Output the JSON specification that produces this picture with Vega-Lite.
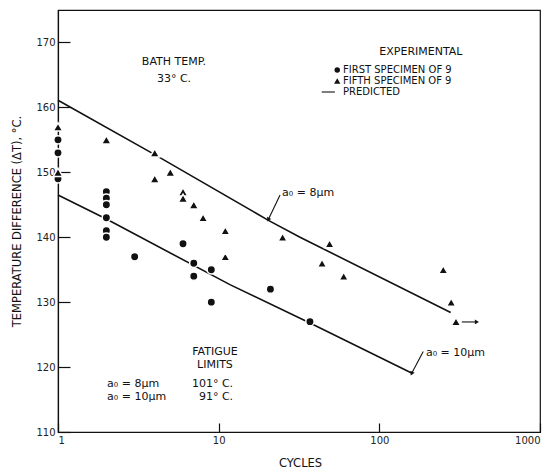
{
  "$schema": "https://vega.github.io/schema/vega-lite/v6.json",
  "width": 482,
  "height": 422,
  "autosize": {"type": "none"},
  "padding": {"left": 58, "top": 10, "right": 4, "bottom": 37},
  "background": "white",
  "config": {
    "view": {"stroke": "#111", "strokeWidth": 1.2},
    "font": "DejaVu Sans",
    "axis": {
      "grid": false,
      "domainColor": "#111",
      "domainWidth": 1.2,
      "tickColor": "#111",
      "tickWidth": 1.2,
      "labelColor": "#222",
      "labelFont": "DejaVu Sans",
      "labelFontSize": 10,
      "titleFont": "DejaVu Sans",
      "titleFontSize": 11.5,
      "titleFontWeight": "normal",
      "titleColor": "#111"
    },
    "text": {"font": "DejaVu Sans", "fontSize": 11, "color": "#111"}
  },
  "datasets": {
    "predicted": [
      {"curve": "a0 = 8 um", "x": 1, "y": 161.1},
      {"curve": "a0 = 8 um", "x": 3.95, "y": 152.8},
      {"curve": "a0 = 8 um", "x": 20.4, "y": 142.6},
      {"curve": "a0 = 8 um", "x": 32.1, "y": 140.0},
      {"curve": "a0 = 8 um", "x": 278, "y": 128.4},
      {"curve": "a0 = 10 um", "x": 1, "y": 146.5},
      {"curve": "a0 = 10 um", "x": 2, "y": 142.8},
      {"curve": "a0 = 10 um", "x": 11.75, "y": 132.7},
      {"curve": "a0 = 10 um", "x": 37, "y": 126.8},
      {"curve": "a0 = 10 um", "x": 161, "y": 119.0}
    ],
    "first": [
      {"x": 1, "y": 155}, {"x": 1, "y": 153}, {"x": 1, "y": 149},
      {"x": 2, "y": 147}, {"x": 2, "y": 146}, {"x": 2, "y": 145},
      {"x": 2, "y": 143}, {"x": 2, "y": 141}, {"x": 2, "y": 140},
      {"x": 3, "y": 137}, {"x": 6, "y": 139}, {"x": 7, "y": 136},
      {"x": 7, "y": 134}, {"x": 9, "y": 135}, {"x": 9, "y": 130},
      {"x": 21, "y": 132}, {"x": 37, "y": 127}
    ],
    "fifth": [
      {"x": 1, "y": 157}, {"x": 1, "y": 150}, {"x": 2, "y": 155},
      {"x": 4, "y": 153}, {"x": 4, "y": 149}, {"x": 5, "y": 150},
      {"x": 6, "y": 147}, {"x": 6, "y": 146}, {"x": 7, "y": 145},
      {"x": 8, "y": 143}, {"x": 11, "y": 141}, {"x": 11, "y": 137},
      {"x": 25, "y": 140}, {"x": 44, "y": 136}, {"x": 49, "y": 139},
      {"x": 60, "y": 134}, {"x": 250, "y": 135}, {"x": 280, "y": 130},
      {"x": 300, "y": 127}
    ],
    "leaders": [
      {"x": 24.1, "y": 146.5, "x2": 20.35, "y2": 142.7},
      {"x": 187.6, "y": 122.4, "x2": 158.8, "y2": 119.0},
      {"x": 326, "y": 126.95, "x2": 400, "y2": 126.95},
      {"x": 43.8, "y": 162.37, "x2": 52.9, "y2": 162.37}
    ],
    "heads": [
      {"x": 20.35, "y": 142.7},
      {"x": 158.8, "y": 119.0}
    ],
    "headRight": [
      {"x": 405, "y": 126.95}
    ],
    "legendCircle": [{"x": 54.7, "y": 165.76}],
    "legendTriangle": [{"x": 54.7, "y": 164.07}],
    "legendText": [
      {"x": 59.4, "y": 165.76, "label": "FIRST  SPECIMEN  OF  9"},
      {"x": 59.4, "y": 164.07, "label": "FIFTH  SPECIMEN  OF  9"},
      {"x": 59.4, "y": 162.37, "label": "PREDICTED"}
    ],
    "centerText": [
      {"x": 181.5, "y": 168.53, "label": "EXPERIMENTAL"},
      {"x": 5.27, "y": 167.0, "label": "BATH TEMP."},
      {"x": 5.27, "y": 164.37, "label": "33° C."},
      {"x": 9.48, "y": 122.32, "label": "FATIGUE"},
      {"x": 9.48, "y": 120.32, "label": "LIMITS"}
    ],
    "leftText": [
      {"x": 24.8, "y": 146.8, "label": "a₀ = 8μm"},
      {"x": 195, "y": 122.2, "label": "a₀ = 10μm"},
      {"x": 2.02, "y": 117.39, "label": "a₀  =  8μm"},
      {"x": 2.02, "y": 115.39, "label": "a₀  =  10μm"}
    ],
    "rightText": [
      {"x": 12.3, "y": 117.39, "label": "101° C."},
      {"x": 12.3, "y": 115.39, "label": "91° C."}
    ]
  },
  "encoding": {
    "x": {
      "field": "x",
      "type": "quantitative",
      "scale": {"type": "log", "domain": [1, 1000], "nice": false},
      "axis": {
        "title": "CYCLES",
        "values": [1, 10, 100, 1000],
        "format": "d",
        "tickSize": -9,
        "labelPadding": 12,
        "labelFlush": true,
        "titleX": 242,
        "titleY": 31,
        "titleBaseline": "middle",
        "titleAnchor": "start",
        "titleAlign": "center"
      }
    },
    "y": {
      "field": "y",
      "type": "quantitative",
      "scale": {"domain": [110, 175], "nice": false, "zero": false},
      "axis": {
        "title": "TEMPERATURE DIFFERENCE (ΔT), °C.",
        "values": [110, 120, 130, 140, 150, 160, 170],
        "tickSize": -12,
        "labelPadding": 15,
        "labelFlush": false,
        "titleX": -41,
        "titleY": 211,
        "titleAngle": -90,
        "titleAlign": "center",
        "titleBaseline": "middle"
      }
    }
  },
  "layer": [
    {
      "data": {"name": "predicted"},
      "mark": {"type": "line", "color": "#111", "strokeWidth": 1.6},
      "encoding": {"detail": {"field": "curve"}}
    },
    {
      "data": {"name": "leaders"},
      "mark": {"type": "rule", "color": "#111", "strokeWidth": 1.1},
      "encoding": {"x2": {"field": "x2"}, "y2": {"field": "y2"}}
    },
    {
      "data": {"name": "heads"},
      "mark": {"type": "point", "shape": "triangle-up", "filled": true, "color": "#111", "size": 22, "angle": 207, "opacity": 1}
    },
    {
      "data": {"name": "headRight"},
      "mark": {"type": "point", "shape": "triangle-up", "filled": true, "color": "#111", "size": 22, "angle": 90, "opacity": 1}
    },
    {
      "data": {"name": "first"},
      "mark": {"type": "point", "shape": "circle", "filled": true, "fill": "#111", "stroke": "white", "strokeWidth": 1.5, "size": 70, "opacity": 1, "strokeOpacity": 1}
    },
    {
      "data": {"name": "fifth"},
      "mark": {"type": "point", "shape": "triangle-up", "filled": true, "fill": "#111", "stroke": "white", "strokeWidth": 1.5, "size": 90, "opacity": 1, "strokeOpacity": 1}
    },
    {
      "data": {"name": "legendCircle"},
      "mark": {"type": "point", "shape": "circle", "filled": true, "fill": "#111", "size": 30, "opacity": 1}
    },
    {
      "data": {"name": "legendTriangle"},
      "mark": {"type": "point", "shape": "triangle-up", "filled": true, "fill": "#111", "size": 40, "opacity": 1}
    },
    {
      "data": {"name": "legendText"},
      "mark": {"type": "text", "align": "left", "baseline": "middle", "fontSize": 10},
      "encoding": {"text": {"field": "label"}}
    },
    {
      "data": {"name": "centerText"},
      "mark": {"type": "text", "align": "center", "baseline": "middle"},
      "encoding": {"text": {"field": "label"}}
    },
    {
      "data": {"name": "leftText"},
      "mark": {"type": "text", "align": "left", "baseline": "middle"},
      "encoding": {"text": {"field": "label"}}
    },
    {
      "data": {"name": "rightText"},
      "mark": {"type": "text", "align": "right", "baseline": "middle"},
      "encoding": {"text": {"field": "label"}}
    }
  ]
}
